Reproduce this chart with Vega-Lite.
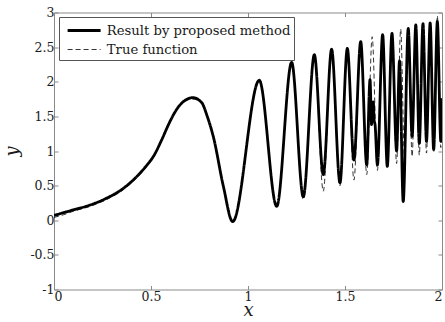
{
  "$schema": "https://vega.github.io/schema/vega-lite/v6.json",
  "width": 388,
  "height": 277,
  "autosize": {"type": "none"},
  "padding": {"left": 54, "top": 12.5, "right": 3, "bottom": 32.5},
  "background": "white",
  "config": {
    "view": {"stroke": "#8a8a8a", "strokeWidth": 1},
    "font": "DejaVu Serif",
    "axis": {
      "domain": false,
      "grid": false,
      "tickColor": "#8a8a8a",
      "tickSize": -4,
      "labelFont": "DejaVu Serif",
      "labelFontSize": 12.5,
      "labelColor": "#1a1a1a",
      "titleFont": "DejaVu Serif",
      "titleFontStyle": "italic",
      "titleFontWeight": "normal",
      "titleFontSize": 18,
      "titleColor": "#1a1a1a"
    },
    "legend": {
      "orient": "none",
      "legendX": 5,
      "legendY": 4.5,
      "strokeColor": "#555555",
      "fillColor": "white",
      "padding": 3.5,
      "symbolType": "M-2,0H2",
      "symbolSize": 272,
      "symbolOffset": 11.6,
      "symbolStrokeColor": "black",
      "labelFont": "DejaVu Serif",
      "labelFontSize": 13.2,
      "labelColor": "#1a1a1a",
      "labelOffset": 12.7,
      "labelLimit": 400,
      "rowPadding": 3,
      "title": null
    }
  },
  "data": {
    "values": [
      {"x": 0, "y": 0.04, "s": "T"}, {"x": 0.05, "y": 0.08, "s": "T"}, {"x": 0.1, "y": 0.13, "s": "T"},
      {"x": 0.186, "y": 0.2, "s": "T"}, {"x": 0.272, "y": 0.3, "s": "T"}, {"x": 0.357, "y": 0.44, "s": "T"},
      {"x": 0.443, "y": 0.66, "s": "T"}, {"x": 0.48, "y": 0.78, "s": "T"}, {"x": 0.512, "y": 0.9, "s": "T"}, {"x": 0.555, "y": 1.15, "s": "T"},
      {"x": 0.59, "y": 1.37, "s": "T"}, {"x": 0.615, "y": 1.51, "s": "T"}, {"x": 0.645, "y": 1.64, "s": "T"},
      {"x": 0.675, "y": 1.72, "s": "T"}, {"x": 0.715, "y": 1.75, "s": "T"}, {"x": 0.761, "y": 1.69, "s": "T"},
      {"x": 0.79, "y": 1.5, "s": "T"}, {"x": 0.821, "y": 1.21, "s": "T"}, {"x": 0.873, "y": 0.49, "s": "T"},
      {"x": 0.921, "y": -0.02, "s": "T"}, {"x": 1.058, "y": 2.04, "s": "T"}, {"x": 1.148, "y": 0.2, "s": "T"},
      {"x": 1.225, "y": 2.29, "s": "T"}, {"x": 1.285, "y": 0.3, "s": "T"}, {"x": 1.342, "y": 2.39, "s": "T"},
      {"x": 1.388, "y": 0.42, "s": "T"}, {"x": 1.431, "y": 2.48, "s": "T"}, {"x": 1.474, "y": 0.5, "s": "T"},
      {"x": 1.512, "y": 2.5, "s": "T"}, {"x": 1.546, "y": 0.58, "s": "T"}, {"x": 1.581, "y": 2.58, "s": "T"},
      {"x": 1.612, "y": 0.66, "s": "T"}, {"x": 1.64, "y": 2.65, "s": "T"}, {"x": 1.667, "y": 0.72, "s": "T"},
      {"x": 1.694, "y": 2.68, "s": "T"}, {"x": 1.718, "y": 0.76, "s": "T"}, {"x": 1.742, "y": 2.72, "s": "T"},
      {"x": 1.766, "y": 0.82, "s": "T"}, {"x": 1.787, "y": 2.76, "s": "T"}, {"x": 1.807, "y": 0.88, "s": "T"},
      {"x": 1.826, "y": 2.78, "s": "T"}, {"x": 1.846, "y": 0.92, "s": "T"}, {"x": 1.865, "y": 2.82, "s": "T"},
      {"x": 1.883, "y": 0.94, "s": "T"}, {"x": 1.902, "y": 2.84, "s": "T"}, {"x": 1.92, "y": 0.97, "s": "T"},
      {"x": 1.939, "y": 2.86, "s": "T"}, {"x": 1.957, "y": 0.98, "s": "T"}, {"x": 1.976, "y": 2.95, "s": "T"},
      {"x": 1.994, "y": 1.05, "s": "T"}, {"x": 2.0, "y": 1.76, "s": "T"},

      {"x": 0, "y": 0.07, "s": "R"}, {"x": 0.05, "y": 0.11, "s": "R"}, {"x": 0.1, "y": 0.15, "s": "R"},
      {"x": 0.186, "y": 0.22, "s": "R"}, {"x": 0.272, "y": 0.32, "s": "R"}, {"x": 0.357, "y": 0.46, "s": "R"},
      {"x": 0.443, "y": 0.68, "s": "R"}, {"x": 0.48, "y": 0.8, "s": "R"}, {"x": 0.512, "y": 0.92, "s": "R"}, {"x": 0.555, "y": 1.16, "s": "R"},
      {"x": 0.59, "y": 1.38, "s": "R"}, {"x": 0.615, "y": 1.52, "s": "R"}, {"x": 0.645, "y": 1.65, "s": "R"},
      {"x": 0.675, "y": 1.73, "s": "R"}, {"x": 0.715, "y": 1.77, "s": "R"}, {"x": 0.761, "y": 1.7, "s": "R"},
      {"x": 0.79, "y": 1.5, "s": "R"}, {"x": 0.821, "y": 1.21, "s": "R"}, {"x": 0.873, "y": 0.49, "s": "R"},
      {"x": 0.921, "y": -0.02, "s": "R"}, {"x": 1.058, "y": 2.02, "s": "R"}, {"x": 1.148, "y": 0.2, "s": "R"},
      {"x": 1.225, "y": 2.28, "s": "R"}, {"x": 1.285, "y": 0.34, "s": "R"}, {"x": 1.342, "y": 2.39, "s": "R"},
      {"x": 1.388, "y": 0.66, "s": "R"}, {"x": 1.431, "y": 2.47, "s": "R"}, {"x": 1.474, "y": 0.54, "s": "R"},
      {"x": 1.512, "y": 2.48, "s": "R"}, {"x": 1.546, "y": 0.87, "s": "R"}, {"x": 1.581, "y": 2.58, "s": "R"},
      {"x": 1.612, "y": 0.8, "s": "R"}, {"x": 1.629, "y": 2.03, "s": "R"}, {"x": 1.637, "y": 1.38, "s": "R"},
      {"x": 1.641, "y": 1.65, "s": "R"}, {"x": 1.646, "y": 1.71, "s": "R"}, {"x": 1.65, "y": 1.45, "s": "R"},
      {"x": 1.655, "y": 1.38, "s": "R"}, {"x": 1.667, "y": 0.8, "s": "R"}, {"x": 1.694, "y": 2.68, "s": "R"},
      {"x": 1.718, "y": 0.78, "s": "R"}, {"x": 1.742, "y": 2.7, "s": "R"}, {"x": 1.766, "y": 1.0, "s": "R"},
      {"x": 1.781, "y": 2.3, "s": "R"}, {"x": 1.8, "y": 0.27, "s": "R"}, {"x": 1.826, "y": 2.77, "s": "R"},
      {"x": 1.846, "y": 1.21, "s": "R"}, {"x": 1.865, "y": 2.82, "s": "R"}, {"x": 1.883, "y": 1.11, "s": "R"},
      {"x": 1.902, "y": 2.84, "s": "R"}, {"x": 1.92, "y": 1.14, "s": "R"}, {"x": 1.939, "y": 2.85, "s": "R"},
      {"x": 1.957, "y": 1.02, "s": "R"}, {"x": 1.976, "y": 2.87, "s": "R"}, {"x": 1.994, "y": 1.14, "s": "R"},
      {"x": 2.0, "y": 1.76, "s": "R"}
    ]
  },
  "layer": [
    {
      "transform": [{"filter": "datum.s == 'T'"}],
      "mark": {"type": "line", "interpolate": "monotone", "color": "black", "clip": true},
      "encoding": {
        "x": {"field": "x", "type": "quantitative", "scale": {"domain": [0, 2], "nice": false},
              "axis": {"orient": "bottom", "values": [0, 0.5, 1, 1.5, 2], "labelExpr": "'' + datum.value", "title": "x", "labelPadding": 5, "titlePadding": -1.5}},
        "y": {"field": "y", "type": "quantitative", "scale": {"domain": [-1, 3], "nice": false, "zero": false},
              "axis": {"orient": "left", "values": [-1, -0.5, 0, 0.5, 1, 1.5, 2, 2.5, 3], "labelExpr": "'' + datum.value", "title": "y", "labelPadding": 4, "titlePadding": 8}},
        "strokeDash": {"field": "s", "type": "nominal",
              "scale": {"domain": ["R", "T"], "range": [[1, 0], [5, 3]]},
              "legend": {"labelExpr": "datum.value == 'R' ? 'Result by proposed method' : 'True function'"}},
        "strokeWidth": {"field": "s", "type": "nominal",
              "scale": {"domain": ["R", "T"], "range": [2.8, 0.8]},
              "legend": {"labelExpr": "datum.value == 'R' ? 'Result by proposed method' : 'True function'"}}
      }
    },
    {
      "transform": [{"filter": "datum.s == 'R'"}],
      "mark": {"type": "line", "interpolate": "monotone", "color": "black", "clip": true},
      "encoding": {
        "x": {"field": "x", "type": "quantitative",
              "axis": {"orient": "top", "values": [0, 0.5, 1, 1.5, 2], "labels": false, "title": null}},
        "y": {"field": "y", "type": "quantitative",
              "axis": {"orient": "right", "values": [-1, -0.5, 0, 0.5, 1, 1.5, 2, 2.5, 3], "labels": false, "title": null}},
        "strokeDash": {"field": "s", "type": "nominal"},
        "strokeWidth": {"field": "s", "type": "nominal"}
      }
    }
  ],
  "resolve": {"axis": {"x": "independent", "y": "independent"}}
}
